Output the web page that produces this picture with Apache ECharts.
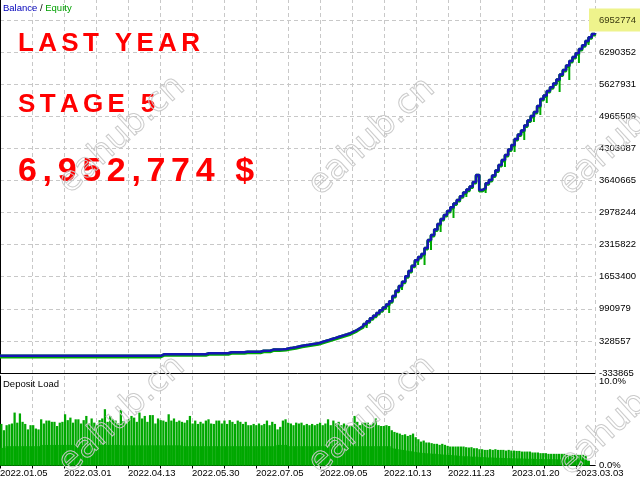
<!DOCTYPE html>
<html>
<head>
<meta charset="utf-8">
<title>Balance / Equity</title>
<script src="https://cdn.jsdelivr.net/npm/echarts@6.0.0/dist/echarts.min.js"></script>
<style>
  html, body { margin: 0; padding: 0; background: #fff; }
  #chart { width: 640px; height: 480px; }
</style>
</head>
<body>
<div id="chart"></div>
<script>
// axis floor of the balance pane and its tick labels
const Y0 = -333865;
const yTickLabels = ['-333865', '328557', '990979', '1653400', '2315822', '2978244',
  '3640665', '4303087', '4965509', '5627931', '6290352', '6952774'];
const depositTickLabels = ['0.0%', '10.0%'];
const dateLabels = ['2022.01.05', '2022.03.01', '2022.04.13', '2022.05.30', '2022.07.05',
  '2022.09.05', '2022.10.13', '2022.11.23', '2023.01.20', '2023.03.03'];

// balance, one value per step along the test
const balance = [
  20000, 20000, 20000, 20000, 20000, 20000, 20000, 20000, 20000, 20000,
  20000, 20000, 20000, 20000, 20000, 20000, 20000, 20000, 20000, 20000,
  20000, 20000, 20000, 20000, 20000, 20000, 20000, 20000, 20000, 20000,
  20000, 20000, 20000, 20000, 20000, 20000, 20000, 20000, 20000, 20000,
  20000, 20000, 20000, 20000, 20000, 20000, 20000, 20000, 20000, 20000,
  52000, 52000, 52000, 52000, 52000, 52000, 52000, 52000, 52000, 52000,
  52000, 52000, 52000, 52000, 73000, 73000, 73000, 73000, 73000, 73000,
  73000, 93000, 93000, 93000, 93000, 93000, 106000, 106000, 106000, 106000,
  106000, 126000, 126000, 126000, 150000, 150000, 150000, 155000, 162000, 176000,
  186000, 197000, 213000, 228000, 238000, 248000, 259000, 269000, 279000, 302000,
  323000, 341000, 364000, 382000, 403000, 424000, 444000, 465000, 488000, 519000,
  554000, 595000, 636000, 678000, 733000, 795000, 849000, 905000, 960000, 1018000,
  1080000, 1146000, 1256000, 1365000, 1462000, 1551000, 1662000, 1772000, 1881000, 1992000,
  2061000, 2123000, 2246000, 2412000, 2515000, 2628000, 2742000, 2845000, 2928000, 3010000,
  3087000, 3165000, 3237000, 3314000, 3392000, 3452000, 3516000, 3609000, 3753000, 3444000,
  3485000, 3582000, 3650000, 3743000, 3846000, 3960000, 4063000, 4166000, 4280000, 4373000,
  4496000, 4589000, 4672000, 4775000, 4878000, 4971000, 5054000, 5178000, 5322000, 5394000,
  5487000, 5564000, 5642000, 5725000, 5828000, 5921000, 6014000, 6106000, 6189000, 6265000,
  6354000, 6431000, 6519000, 6596000, 6664000, 6684000
];

// equity drawdowns: step index and lowest equity there
const dipIdx = [104, 110, 114, 117, 119, 121, 123, 125, 128, 130, 132, 134, 137, 139, 141, 143,
  145, 151, 153, 155, 157, 160, 163, 166, 168, 170, 172, 174, 177, 180, 183];
const dipLow = [360000, 490000, 595000, 822000, 940000, 905000, 1290000, 1379000, 1751000,
  1895000, 1895000, 2205000, 2577000, 2900000, 2866000, 3200000, 3299000, 3382000, 3650000,
  3860000, 3918000, 4228000, 4476000, 4847000, 4992000, 5239000, 5560000, 5467000, 5714000,
  6065000, 6437000];

// deposit load, %: peak of each bar and its lower solid part
const depositLoad = [
  4.95, 4.2, 4.8, 4.9, 5.0, 6.3, 5.1, 6.2, 5.2, 4.95,
  4.3, 4.8, 4.8, 4.4, 4.3, 5.5, 5.0, 5.35, 5.35, 5.2,
  5.2, 4.7, 5.1, 5.2, 6.1, 5.4, 5.7, 5.1, 5.5, 5.5,
  5.0, 5.4, 5.9, 5.0, 5.6, 5.1, 4.8, 5.4, 5.6, 6.7,
  5.2, 5.9, 5.5, 5.35, 5.0, 6.6, 5.3, 5.0, 5.5, 5.9,
  5.7, 5.2, 6.3, 5.6, 5.9, 5.2, 6.0, 6.0, 5.0, 5.6,
  5.4, 5.35, 5.2, 6.1, 5.35, 5.6, 5.2, 5.35, 5.2, 5.1,
  5.4, 5.9, 5.0, 5.35, 4.95, 5.2, 5.0, 5.35, 5.5, 5.0,
  4.95, 5.35, 5.35, 5.0, 5.35, 4.95, 5.4, 5.2, 4.95, 5.35,
  5.2, 4.95, 5.2, 4.8, 4.8, 4.95, 4.8, 5.0, 4.8, 4.95,
  5.35, 4.8, 5.2, 4.95, 4.3, 4.6, 5.35, 5.5,
  5.1, 5.0, 4.8, 5.1, 5.0, 5.1, 4.8, 4.95, 4.8, 4.95,
  4.8, 4.95, 5.1, 4.8, 5.0, 5.5, 4.8, 5.35, 5.0, 5.2,
  4.8, 5.0, 4.8, 4.7, 4.7, 5.9, 5.2, 4.8, 5.1, 5.1,
  5.1, 4.8, 5.1, 5.6, 4.8, 4.7, 4.7, 4.8, 4.7, 4.2,
  4.0, 3.9, 3.8, 3.64, 3.72, 3.52, 3.64, 3.8, 3.37, 3.13,
  2.85, 2.97, 2.74, 2.74, 2.66, 2.58, 2.58, 2.46, 2.58, 2.46,
  2.34, 2.26, 2.26, 2.26, 2.26, 2.26, 2.26, 2.18, 2.14, 2.18,
  2.06, 2.06, 1.94, 1.94, 1.86, 1.86, 1.94, 1.86, 1.94, 1.86,
  1.86, 1.86, 1.78, 1.86, 1.78, 1.78, 1.74, 1.74, 1.66, 1.66,
  1.66, 1.66, 1.55, 1.55, 1.55, 1.47, 1.47, 1.47, 1.39, 1.39,
  1.39, 1.39, 1.39, 1.39, 1.39, 1.27, 1.27, 1.27, 1.27, 1.27,
  1.27, 1.27, 1.15, 0.56
];
const depositBase = [
  2.1, 2.1, 2.3, 2.3, 2.3, 2.3, 2.3, 2.3, 2.3, 2.3,
  2.3, 2.3, 2.3, 2.3, 2.3, 2.45, 2.45, 2.45, 2.45, 2.45,
  2.45, 2.45, 2.45, 2.45, 2.45, 2.45, 2.45, 2.45, 2.45, 2.45,
  2.45, 2.45, 2.45, 2.45, 2.45, 2.45, 2.45, 2.45, 2.45, 2.45,
  2.45, 2.45, 2.45, 2.45, 2.45, 2.45, 2.4, 2.4, 2.4, 2.4,
  2.4, 2.4, 2.4, 2.4, 2.4, 2.4, 2.4, 2.4, 2.4, 2.4,
  2.4, 2.4, 2.4, 2.4, 2.4, 2.4, 2.4, 2.4, 2.3, 2.3,
  2.3, 2.3, 2.3, 2.3, 2.3, 2.3, 2.3, 2.3, 2.3, 2.3,
  2.3, 2.3, 2.3, 2.3, 2.3, 2.3, 2.3, 2.3, 2.3, 2.3,
  2.3, 2.3, 2.3, 2.3, 2.3, 2.3, 2.3, 2.3, 2.3, 2.3,
  2.3, 2.3, 2.3, 2.3, 2.45, 2.45, 2.45, 2.45,
  2.3, 2.3, 2.3, 2.3, 2.3, 2.3, 2.3, 2.3, 2.3, 2.3,
  2.3, 2.3, 2.3, 2.3, 2.3, 2.3, 2.3, 2.3, 2.3, 2.3,
  2.3, 2.3, 2.3, 2.3, 2.3, 2.3, 2.3, 2.3, 2.3, 2.3,
  2.3, 2.3, 2.3, 2.3, 2.3, 2.3, 2.3, 2.3, 2.3, 2.1,
  2.0, 1.95, 1.9, 1.85, 1.8, 1.75, 1.7, 1.65, 1.6, 1.55,
  1.5, 1.5, 1.45, 1.45, 1.4, 1.4, 1.35, 1.35, 1.3, 1.3,
  1.25, 1.25, 1.2, 1.2, 1.15, 1.15, 1.1, 1.1, 1.1, 1.05,
  1.05, 1.05, 1.0, 1.0, 1.0, 0.95, 0.95, 0.95, 0.92, 0.92,
  0.9, 0.9, 0.88, 0.88, 0.86, 0.86, 0.84, 0.84, 0.82, 0.82,
  0.8, 0.8, 0.8, 0.78, 0.78, 0.78, 0.76, 0.76, 0.76, 0.75,
  0.75, 0.74, 0.74, 0.73, 0.73, 0.72, 0.72, 0.71, 0.71, 0.7,
  0.7, 0.7, 0.7, 0.56
];

// layout
const PLOT_W = 595;
const MAIN_TOP = -1, MAIN_H = 374, TOP_TICK = 21;
const DEP_TOP = 376, DEP_H = 89.5, DEP_TEN = 84;
const yStep = (Number(yTickLabels[yTickLabels.length - 1]) - Y0) / (yTickLabels.length - 1);
const yMax = yStep * (yTickLabels.length - 1) * MAIN_H / (MAIN_H - TOP_TICK);
const xUnits = PLOT_W / 32;

const GRID_COLOR = '#c8c8c8';
const BLUE = '#1616b4';
const GREEN = '#00aa00';
const LABEL_FONT = 'Liberation Sans';

const shifted = balance.map((v) => v - Y0);
const dipBase = balance.map(() => null);
const dipSize = balance.map(() => null);
dipIdx.forEach((k, j) => {
  dipBase[k] = dipLow[j] - Y0;
  dipSize[k] = balance[k] - dipLow[j];
});
const depositCats = depositLoad.concat([null, null]).map((_, i) => i);

const spaced = (s) => s.split('').join('\u2006');

function watermark(x, y) {
  return {
    type: 'text', x, y, rotation: 0.74, z: 100, silent: true,
    style: {
      text: 'eahub.cn', font: '34px "DejaVu Sans"',
      fill: 'rgba(255,255,255,0)', stroke: 'rgba(200,200,200,0.95)', lineWidth: 1,
      align: 'center', verticalAlign: 'middle', textAlign: 'center', textVerticalAlign: 'middle',
    },
  };
}

const chart = echarts.init(document.getElementById('chart'), null, { renderer: 'canvas' });

chart.setOption({
  animation: false,
  backgroundColor: '#fff',
  grid: [
    { left: 0, right: 640 - PLOT_W, top: MAIN_TOP, height: MAIN_H, containLabel: false, outerBoundsMode: 'none' },
    { left: 0, right: 640 - PLOT_W, top: DEP_TOP, height: DEP_H, containLabel: false, outerBoundsMode: 'none' },
  ],
  xAxis: [
    {
      gridIndex: 0, type: 'category', boundaryGap: false,
      data: balance.map((_, i) => i),
      axisLine: { show: true, lineStyle: { color: '#000', width: 1 } },
      axisTick: { show: false }, axisLabel: { show: false }, splitLine: { show: false },
    },
    {
      gridIndex: 0, type: 'value', position: 'top', min: 0, max: xUnits, interval: 1,
      axisLine: { show: false }, axisTick: { show: false }, axisLabel: { show: false },
      splitLine: { show: true, lineStyle: { color: GRID_COLOR, type: [4, 3] } },
    },
    {
      gridIndex: 1, type: 'category', position: 'top', boundaryGap: true,
      data: depositCats,
      axisLine: { show: true, lineStyle: { color: '#000', width: 1 } },
      axisTick: { show: false }, axisLabel: { show: false }, splitLine: { show: false },
    },
    {
      gridIndex: 1, type: 'value', position: 'bottom', min: 0, max: xUnits, interval: 1,
      axisLine: { show: true, lineStyle: { color: '#000', width: 1 } },
      axisTick: { show: true, length: 3, lineStyle: { color: '#000' } },
      splitLine: { show: true, lineStyle: { color: GRID_COLOR, type: [4, 3] } },
      axisLabel: {
        align: 'left', margin: 3, color: '#000', fontSize: 9.5, fontFamily: LABEL_FONT,
        showMaxLabel: false,
        formatter: (v) => {
          const k = Math.round(v);
          if (Math.abs(v - k) > 1e-6 || k % 2 !== 0) return '';
          return dateLabels[k / 2] || '';
        },
      },
    },
  ],
  yAxis: [
    {
      gridIndex: 0, type: 'value', position: 'right', min: 0, max: yMax, interval: yStep,
      axisLine: { show: true, lineStyle: { color: '#000', width: 1 } },
      axisTick: { show: false },
      splitLine: { show: true, lineStyle: { color: GRID_COLOR, type: [4, 3] } },
      axisLabel: {
        margin: -6, showMaxLabel: false,
        formatter: (v, i) => {
          const lab = yTickLabels[i];
          if (lab === undefined) return '';
          return i === yTickLabels.length - 1 ? `{hl|${lab}}` : `{n|${lab}}`;
        },
        rich: {
          n: { padding: [0, 0, 0, 10], fontSize: 9.5, fontFamily: LABEL_FONT, color: '#000' },
          hl: {
            padding: [7, 6, 6, 10], fontSize: 9.5, fontFamily: LABEL_FONT, color: '#3a3a10',
            backgroundColor: '#eef38c',
          },
        },
      },
    },
    {
      gridIndex: 1, type: 'value', position: 'right', min: 0,
      max: 10 * DEP_H / DEP_TEN, interval: 10,
      axisLine: { show: true, lineStyle: { color: '#000', width: 1 } },
      axisTick: { show: false }, splitLine: { show: false },
      axisLabel: {
        margin: 4, color: '#000', fontSize: 9.5, fontFamily: LABEL_FONT, showMaxLabel: false,
        formatter: (v) => (v === 0 ? depositTickLabels[0] : v === 10 ? depositTickLabels[1] : ''),
      },
    },
  ],
  series: [
    {
      name: 'dip base', type: 'bar', xAxisIndex: 0, yAxisIndex: 0, stack: 'eq',
      data: dipBase, barWidth: 2, itemStyle: { color: 'rgba(0,0,0,0)' }, z: 2, silent: true,
    },
    {
      name: 'Equity dip', type: 'bar', xAxisIndex: 0, yAxisIndex: 0, stack: 'eq',
      data: dipSize, barWidth: 2, itemStyle: { color: GREEN }, z: 2,
    },
    {
      // equity sits just under the balance line: its copy is shifted a pixel down
      name: 'Equity', type: 'line', xAxisIndex: 0, yAxisIndex: 0, data: shifted,
      step: 'end', symbol: 'none', z: 3,
      lineStyle: { color: GREEN, width: 2.5, shadowColor: GREEN, shadowBlur: 0, shadowOffsetY: 1.3 },
    },
    {
      name: 'Balance', type: 'line', xAxisIndex: 0, yAxisIndex: 0, data: shifted,
      step: 'end', symbol: 'none', lineStyle: { color: BLUE, width: 2.5 }, z: 4,
    },
    {
      name: 'Deposit base', type: 'bar', xAxisIndex: 2, yAxisIndex: 1, data: depositBase,
      barWidth: '100%', barGap: '-100%', itemStyle: { color: '#00a800' },
    },
    {
      name: 'Deposit Load', type: 'bar', xAxisIndex: 2, yAxisIndex: 1, data: depositLoad,
      barWidth: '85%', barGap: '-100%', itemStyle: { color: '#00a800' },
    },
  ],
  graphic: [
    {
      type: 'text', x: 3, y: 3, z: 50,
      style: {
        text: '{b|Balance} / {e|Equity}', font: `9.5px "${LABEL_FONT}"`, fill: '#000',
        rich: {
          b: { fill: '#0000bb', font: `9.5px "${LABEL_FONT}"` },
          e: { fill: '#00a000', font: `9.5px "${LABEL_FONT}"` },
        },
      },
    },
    {
      type: 'text', x: 3, y: 379, z: 50,
      style: { text: 'Deposit Load', font: `9.5px "${LABEL_FONT}"`, fill: '#000' },
    },
    {
      type: 'text', x: 18, y: 31, z: 50,
      style: { text: spaced('LAST YEAR'), font: 'bold 26px "Liberation Sans"', fill: '#ff0000' },
    },
    {
      type: 'text', x: 18, y: 92, z: 50,
      style: { text: spaced('STAGE 5'), font: 'bold 26px "Liberation Sans"', fill: '#ff0000' },
    },
    {
      type: 'text', x: 18, y: 155, z: 50,
      style: { text: spaced('6,952,774 $'), font: 'bold 34px "Liberation Sans"', fill: '#ff0000' },
    },
    watermark(122, 135),
    watermark(372, 137),
    watermark(622, 137),
    watermark(122, 415),
    watermark(372, 415),
    watermark(622, 417),
  ],
});
</script>
</body>
</html>
